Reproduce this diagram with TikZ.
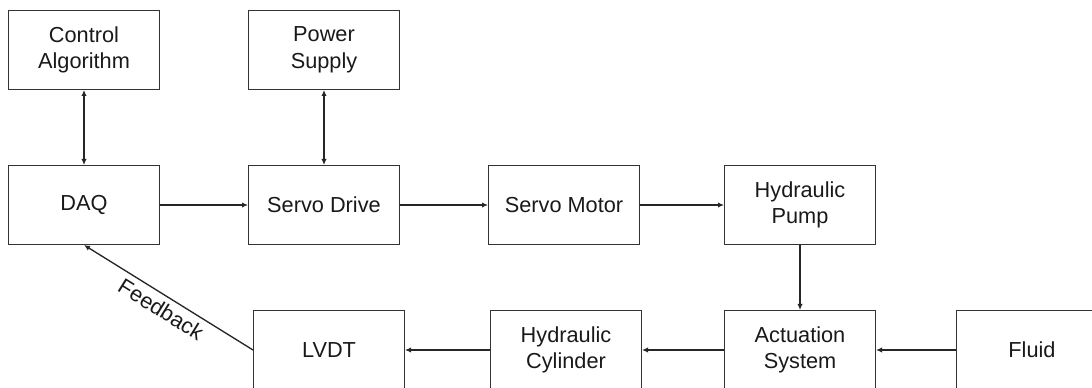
\documentclass[tikz,border=0pt]{standalone}
\usepackage{fontspec}
\setmainfont{Liberation Sans}
\usetikzlibrary{positioning,arrows.meta}

\begin{document}
\begin{tikzpicture}[
  >={Latex[length=4.5pt,width=4pt]},
  every node/.style={font=\fontsize{16.3}{20}\selectfont, text=black!90},
  block/.style={draw=black!80, line width=1pt, minimum width=113pt,
    minimum height=59pt, align=center, inner sep=0pt},
  arrow/.style={->, line width=1pt, draw=black!85}
]
% frame of the page
\useasboundingbox (0,0) rectangle (819pt,-291pt);

% top row
\node[block] (ctrl) at (63pt,-37.5pt) {Control\\Algorithm};
\node[block, right=66pt of ctrl] (power) {Power\\Supply};

% middle row
\node[block, below=56.25pt of ctrl] (daq) {DAQ};
\node[block, right=66pt of daq] (drive) {Servo Drive};
\node[block, right=66pt of drive] (motor) {Servo Motor};
\node[block, right=63pt of motor] (pump) {Hydraulic\\Pump};

% bottom row
\node[block, below=48.75pt of pump] (act) {Actuation\\System};
\node[block, right=60pt of act] (fluid) {Fluid};
\node[block, left=61.5pt of act] (cyl) {Hydraulic\\Cylinder};
\node[block, left=63.75pt of cyl] (lvdt) {LVDT};

% arrows
\draw[arrow, <->] (ctrl) -- (daq);
\draw[arrow, <->] (power) -- (drive);
\draw[arrow] (daq) -- (drive);
\draw[arrow] (drive) -- (motor);
\draw[arrow] (motor) -- (pump);
\draw[arrow] (pump) -- (act);
\draw[arrow] (fluid) -- (act);
\draw[arrow] (act) -- (cyl);
\draw[arrow] (cyl) -- (lvdt);
\draw[arrow] (lvdt.west) -- node[sloped, below, inner sep=4pt] {Feedback} (daq.south);

\end{tikzpicture}
\end{document}
